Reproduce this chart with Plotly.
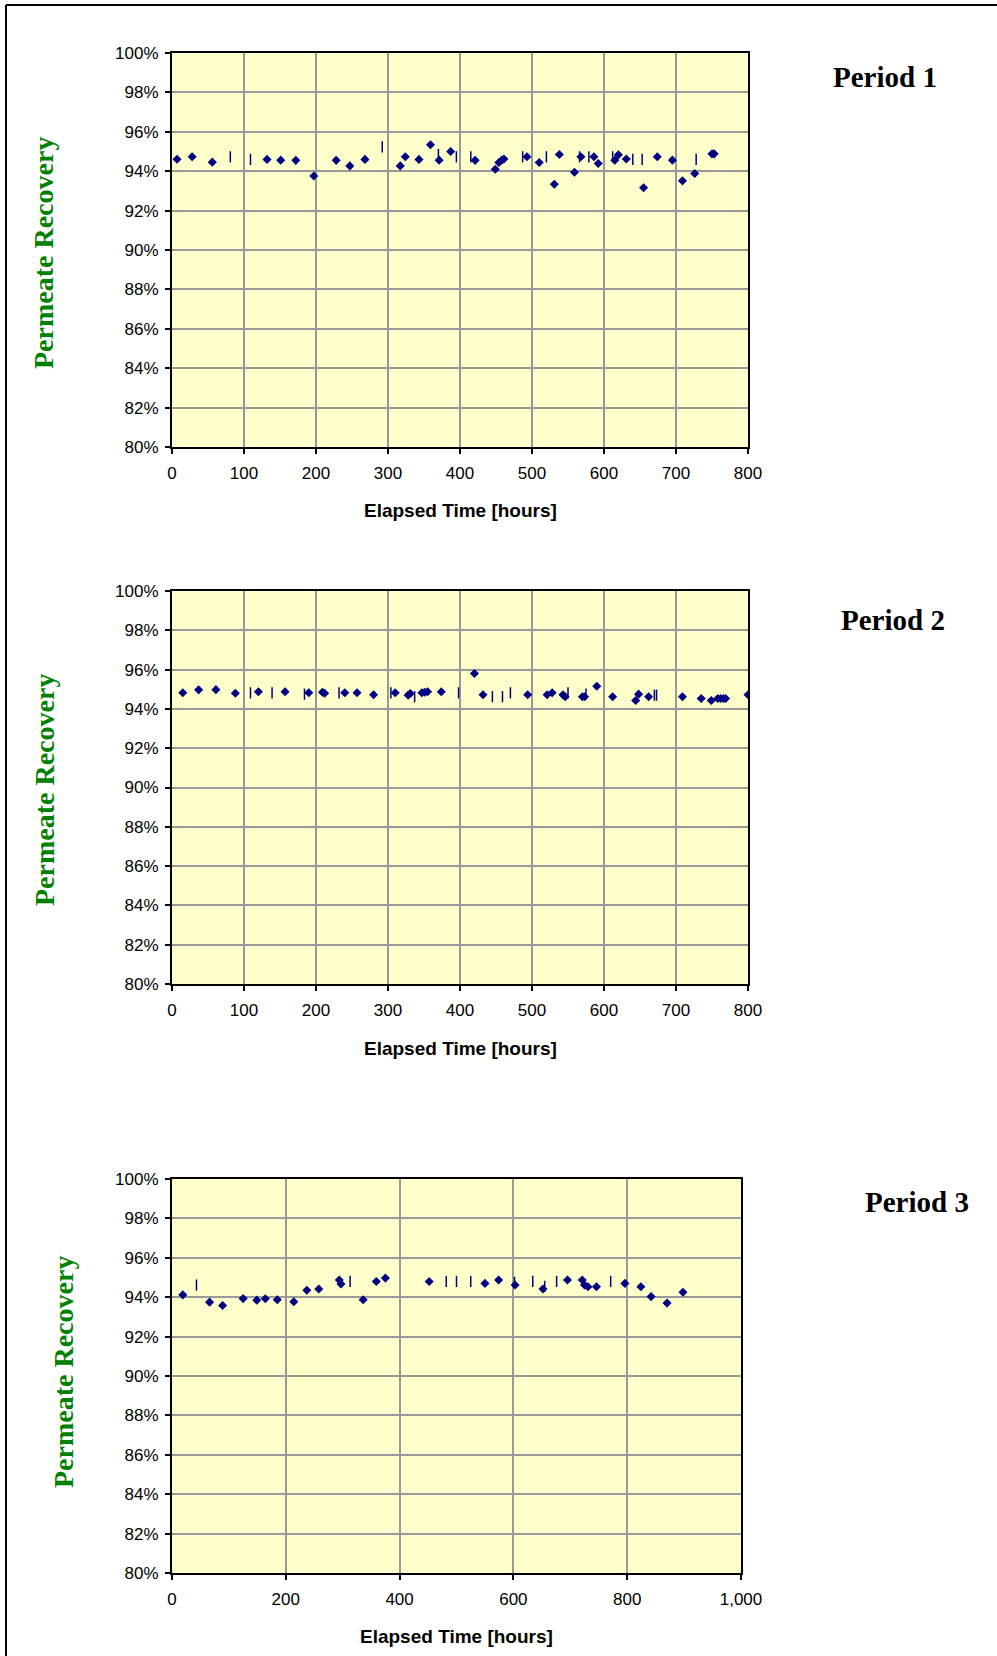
import plotly.graph_objects as go

# ---- data (hours, permeate recovery in %) ----
p1_time = [7, 28, 56, 132, 151, 172, 197, 228, 247, 268, 317, 324, 343, 359, 371, 387,
           421, 449, 454, 458, 461, 493, 510, 531, 538, 559, 568, 586, 592, 615, 620,
           631, 655, 674, 695, 709, 726, 750, 753]
p1_rec = [94.61, 94.73, 94.46, 94.60, 94.56, 94.55, 93.76, 94.55, 94.27, 94.60, 94.27, 94.73,
          94.60, 95.34, 94.56, 95.00, 94.55, 94.10, 94.44, 94.56, 94.62, 94.73, 94.44, 93.34,
          94.85, 93.95, 94.73, 94.73, 94.39, 94.56, 94.83, 94.62, 93.16, 94.73, 94.56, 93.51,
          93.88, 94.88, 94.88]
p1_dash_time = [81, 109, 292, 370, 395, 415, 487, 520, 566, 579, 612, 640, 653, 728]
p1_dash_rec = [94.73, 94.60, 95.23, 94.85, 94.73, 94.73, 94.73, 94.73, 94.73, 94.73,
               94.73, 94.60, 94.60, 94.60]

p2_time = [15, 37, 61, 88, 120, 157, 190, 209, 212, 240, 257, 280, 310, 328, 331, 347, 351,
           355, 374, 420, 432, 494, 521, 528, 543, 546, 570, 573, 590, 612, 644, 648, 662,
           709, 735, 749, 758, 762, 766, 769, 800]
p2_rec = [94.82, 94.97, 94.98, 94.80, 94.87, 94.87, 94.82, 94.85, 94.80, 94.82, 94.82, 94.72,
          94.82, 94.70, 94.78, 94.82, 94.85, 94.87, 94.87, 95.80, 94.72, 94.72, 94.72, 94.82,
          94.72, 94.62, 94.62, 94.62, 95.15, 94.62, 94.43, 94.75, 94.62, 94.62, 94.53, 94.43,
          94.53, 94.53, 94.53, 94.53, 94.72]
p2_dash_time = [109, 139, 184, 232, 304, 337, 398, 445, 459, 470, 550, 575, 670, 673]
p2_dash_rec = [94.82, 94.82, 94.75, 94.82, 94.82, 94.62, 94.82, 94.62, 94.62, 94.82,
               94.82, 94.75, 94.70, 94.70]

p3_time = [19, 66, 89, 125, 149, 164, 185, 214, 237, 258, 294, 297, 336, 359, 375, 452, 550,
           574, 603, 652, 695, 721, 725, 731, 746, 796, 824, 842, 870, 898]
p3_rec = [94.12, 93.75, 93.58, 93.93, 93.85, 93.92, 93.87, 93.77, 94.35, 94.42, 94.87, 94.67,
          93.87, 94.80, 94.97, 94.80, 94.70, 94.87, 94.62, 94.42, 94.87, 94.87, 94.62, 94.53,
          94.53, 94.70, 94.53, 94.03, 93.70, 94.25]
p3_dash_time = [43, 313, 482, 500, 525, 602, 634, 655, 676, 771]
p3_dash_rec = [94.62, 94.80, 94.80, 94.80, 94.80, 94.75, 94.80, 94.55, 94.80, 94.80]

periods = ["Period 1", "Period 2", "Period 3"]
x_max = [800, 800, 1000]
x_dtick = [100, 100, 200]

W, H = 997, 1656
NAVY = "#000080"
SANS = "Liberation Sans, Arial, sans-serif"
SERIF = "Liberation Serif, Times New Roman, serif"

# pixel boxes of the three plot areas (left, right, top, bottom)
boxes = [(172, 748, 53, 447), (172, 748, 591, 984), (172, 741, 1179, 1573)]
ytitle_pos = [(43, 253), (44, 790), (63, 1372)]
xtitle_y = [510, 1048, 1636]
label_pos = [(885, 77), (893, 620), (917, 1202)]

series = [(p1_time, p1_rec, p1_dash_time, p1_dash_rec),
          (p2_time, p2_rec, p2_dash_time, p2_dash_rec),
          (p3_time, p3_rec, p3_dash_time, p3_dash_rec)]


def px(x):
    return x / W


def py(y):
    return 1 - y / H


def note(x, y, text, font, angle=0):
    return dict(x=px(x), y=py(y), xref="paper", yref="paper", text=text,
                textangle=angle, showarrow=False, xanchor="center", yanchor="middle",
                font=font)


fig = go.Figure()
annotations = []

for i, (t, r, dt, dr) in enumerate(series):
    n = "" if i == 0 else str(i + 1)
    xa, ya = "x" + n, "y" + n
    fig.add_trace(go.Scatter(x=t, y=[v / 100 for v in r], mode="markers", xaxis=xa, yaxis=ya,
                             marker=dict(symbol="diamond", size=7, color=NAVY),
                             showlegend=False))
    fig.add_trace(go.Scatter(x=dt, y=[v / 100 for v in dr], mode="markers", xaxis=xa, yaxis=ya,
                             marker=dict(symbol="line-ns", size=8,
                                         line=dict(width=1.5, color=NAVY)),
                             showlegend=False))

    l, rgt, top, bot = boxes[i]
    axis_common = dict(showgrid=True, gridcolor="#999999", gridwidth=2,
                       showline=True, linecolor="black", linewidth=2, mirror=True,
                       ticks="outside", ticklen=5, tickcolor="black", tickwidth=1.5,
                       zeroline=False, automargin=False,
                       tickfont=dict(family=SANS, size=17, color="black"))
    fig.update_layout(**{
        "xaxis" + n: dict(domain=[px(l), px(rgt)], anchor=ya, range=[0, x_max[i]],
                          dtick=x_dtick[i], tick0=0, tickformat=",d",
                          ticklabelstandoff=5, **axis_common),
        "yaxis" + n: dict(domain=[py(bot), py(top)], anchor=xa, range=[0.80, 1.00],
                          dtick=0.02, tickformat=".0%",
                          ticklabelstandoff=3, **axis_common),
    })

    annotations.append(note(ytitle_pos[i][0], ytitle_pos[i][1], "<b>Permeate Recovery</b>",
                            dict(family=SERIF, size=28, color="#008000"), angle=-90))
    annotations.append(note((l + rgt) / 2, xtitle_y[i], "<b>Elapsed Time [hours]</b>",
                            dict(family=SANS, size=19, color="black")))
    annotations.append(note(label_pos[i][0], label_pos[i][1], "<b>" + periods[i] + "</b>",
                            dict(family=SERIF, size=29, color="black")))

fig.update_layout(
    width=W, height=H,
    margin=dict(l=0, r=0, t=0, b=0, pad=0, autoexpand=False),
    paper_bgcolor="white",
    plot_bgcolor="#FFFFCC",
    annotations=annotations,
    shapes=[
        dict(type="line", xref="paper", yref="paper", x0=px(6), x1=1, y0=py(5), y1=py(5),
             line=dict(color="black", width=2)),
        dict(type="line", xref="paper", yref="paper", x0=px(6), x1=px(6), y0=py(5), y1=0,
             line=dict(color="black", width=2)),
    ],
)

# no page margin, so the figure fills the window exactly
fig.write_html("out.html",
               config={"displayModeBar": False},
               post_script="document.body.style.margin='0';"
                           "document.body.style.overflow='hidden';")
